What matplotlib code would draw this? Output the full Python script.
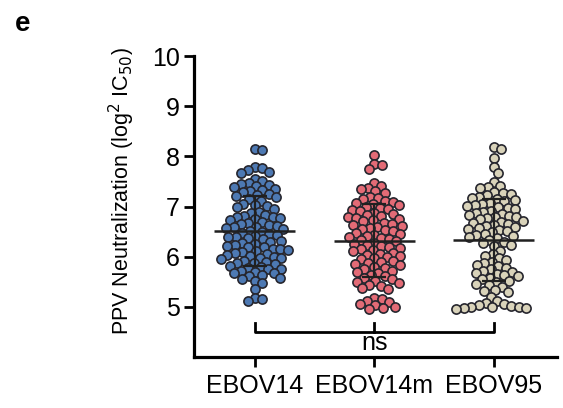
import numpy as np
import matplotlib
matplotlib.use("Agg")
import matplotlib.pyplot as plt

groups = ["EBOV14", "EBOV14m", "EBOV95"]

ebov14 = [8.15, 8.12,
          7.78, 7.76, 7.72, 7.68, 7.66,
          7.55, 7.50, 7.46, 7.44, 7.42, 7.40,
          7.38, 7.35, 7.32, 7.30, 7.28, 7.25, 7.22, 7.21,
          7.19, 7.15, 7.10, 7.05, 7.03, 7.01,
          6.99, 6.95, 6.90, 6.88, 6.84, 6.82, 6.80,
          6.79, 6.77, 6.75, 6.73, 6.70, 6.68, 6.66, 6.64, 6.62, 6.60,
          6.59, 6.57, 6.55, 6.52, 6.50, 6.48, 6.46, 6.44, 6.42, 6.40,
          6.39, 6.37, 6.35, 6.32, 6.30, 6.28, 6.26, 6.24, 6.22, 6.20,
          6.19, 6.16, 6.15, 6.14, 6.11, 6.09, 6.07, 6.06, 6.04, 6.02, 6.00,
          5.98, 5.97, 5.95, 5.92, 5.90, 5.88, 5.87, 5.85, 5.82, 5.80,
          5.78, 5.76, 5.75, 5.72, 5.70, 5.68, 5.67, 5.64, 5.61,
          5.58, 5.55, 5.52, 5.48,
          5.36,
          5.18, 5.16, 5.12]

ebov14m = [8.02,
           7.85, 7.83,
           7.74,
           7.46, 7.40, 7.37, 7.34, 7.30, 7.27,
           7.19, 7.16, 7.14, 7.11, 7.09, 7.06, 7.04, 7.02, 7.00,
           6.98, 6.96, 6.93, 6.91, 6.88, 6.86, 6.84, 6.82, 6.80,
           6.78, 6.76, 6.73, 6.71, 6.68, 6.66, 6.64, 6.62, 6.60,
           6.58, 6.56, 6.53, 6.51, 6.48, 6.46, 6.44, 6.42, 6.40,
           6.38, 6.36, 6.33, 6.31, 6.28, 6.26, 6.24, 6.22, 6.20,
           6.18, 6.16, 6.13, 6.11, 6.08, 6.06, 6.04, 6.02, 6.00,
           5.97, 5.95, 5.92, 5.90, 5.88, 5.85, 5.83, 5.80,
           5.78, 5.75, 5.72, 5.70, 5.67, 5.64, 5.61,
           5.58, 5.55, 5.52, 5.50, 5.47, 5.44, 5.42,
           5.38, 5.36,
           5.18, 5.16, 5.12, 5.09, 5.06, 5.03, 5.00, 4.98, 4.96]

ebov95 = [8.18, 8.14,
          7.96, 7.78, 7.66, 7.48,
          7.40, 7.38, 7.36,
          7.28, 7.26, 7.24, 7.22,
          7.19, 7.17, 7.14, 7.12, 7.10, 7.07, 7.05, 7.03, 7.01,
          6.99, 6.97, 6.95, 6.92, 6.90, 6.88, 6.86, 6.84, 6.82, 6.80,
          6.79, 6.77, 6.75, 6.72, 6.70, 6.68, 6.66, 6.64, 6.62, 6.60,
          6.58, 6.56, 6.54, 6.51, 6.49, 6.46, 6.44, 6.42, 6.40,
          6.37, 6.34, 6.30, 6.27, 6.24, 6.21,
          6.12, 6.06, 6.02,
          5.97, 5.94, 5.90, 5.87, 5.84, 5.81,
          5.78, 5.75, 5.72, 5.70, 5.67, 5.65, 5.63, 5.61,
          5.58, 5.55, 5.52, 5.49, 5.46, 5.43, 5.40,
          5.33, 5.31, 5.30,
          5.20,
          5.12, 5.08, 5.05, 5.03, 5.02, 5.00, 5.00, 4.99, 4.98, 4.97, 4.96]

colors = ["#4d79b3", "#e36b76", "#d9d3ba"]

plt.rcParams['font.family'] = ['Liberation Sans', 'DejaVu Sans']

# axes geometry in pixels (used for the swarm layout)
AX_W, AX_H = 363, 301
XLIM = (-0.51, 2.53)
YLIM = (4, 10)
px_x = AX_W / (XLIM[1] - XLIM[0])
px_y = AX_H / (YLIM[1] - YLIM[0])


def swarm(vals, dist=7.6):
    # simple beeswarm: offsets in data units, points allowed to overlap a bit
    order = np.argsort(vals)[::-1]
    ys = np.asarray(vals) * px_y
    placed = []
    offs = np.zeros(len(vals))
    for idx in order:
        y = ys[idx]
        near = [(px, py) for px, py in placed if abs(py - y) < dist]
        cands = [0.0]
        for px, py in near:
            dx = np.sqrt(dist ** 2 - (py - y) ** 2)
            cands += [px + dx, px - dx]
        cands = sorted(cands, key=abs)
        for c in cands:
            ok = all((c - px) ** 2 + (y - py) ** 2 >= dist ** 2 - 1e-6 for px, py in near)
            if ok:
                break
        placed.append((c, y))
        offs[idx] = c / px_x
    return offs


fig = plt.figure(figsize=(5.63, 4.08), dpi=100)
ax = fig.add_axes([194 / 563, 1 - 357 / 408, AX_W / 563, AX_H / 408])

for i, vals in enumerate([ebov14, ebov14m, ebov95]):
    offs = swarm(vals)
    ax.scatter(i + offs, vals, s=6.6 ** 2, color=colors[i], edgecolors="#26262e",
               linewidths=1.2, zorder=3, clip_on=False)
    m = np.mean(vals)
    sd = np.std(vals, ddof=1)
    ax.hlines(m, i - 0.34, i + 0.34, color="#202020", lw=1.8, zorder=5)
    ax.vlines(i, m - sd, m + sd, color="#202020", lw=1.6, zorder=5)
    ax.hlines([m - sd, m + sd], i - 0.1, i + 0.1, color="#202020", lw=1.6, zorder=5)

# significance bracket
ax.plot([0, 0, 2, 2], [4.68, 4.5, 4.5, 4.68], color="black", lw=2, zorder=5)
ax.plot([1, 1], [4.5, 4.68], color="black", lw=2, zorder=5)
ax.text(1, 4.27, "ns", ha="center", va="center", fontsize=18)

ax.set_xlim(*XLIM)
ax.set_ylim(*YLIM)
ax.set_xticks([0, 1, 2])
ax.set_xticklabels(groups)
ax.set_yticks([5, 6, 7, 8, 9, 10])
ax.set_ylabel(r"PPV Neutralization (log$^2$ IC$_{50}$)", fontsize=15.5)
ax.yaxis.set_label_coords(-0.158, 0.55)

for s in ["top", "right"]:
    ax.spines[s].set_visible(False)
for s in ["left", "bottom"]:
    ax.spines[s].set_linewidth(2.3)
ax.tick_params(axis="both", length=7, width=2, labelsize=18, pad=3)
ax.tick_params(axis="x", pad=5)

fig.text(15 / 563, 1 - 24 / 408, "e", fontsize=20, fontweight="bold", va="center", ha="left")

fig.savefig("out.png", dpi=100)
